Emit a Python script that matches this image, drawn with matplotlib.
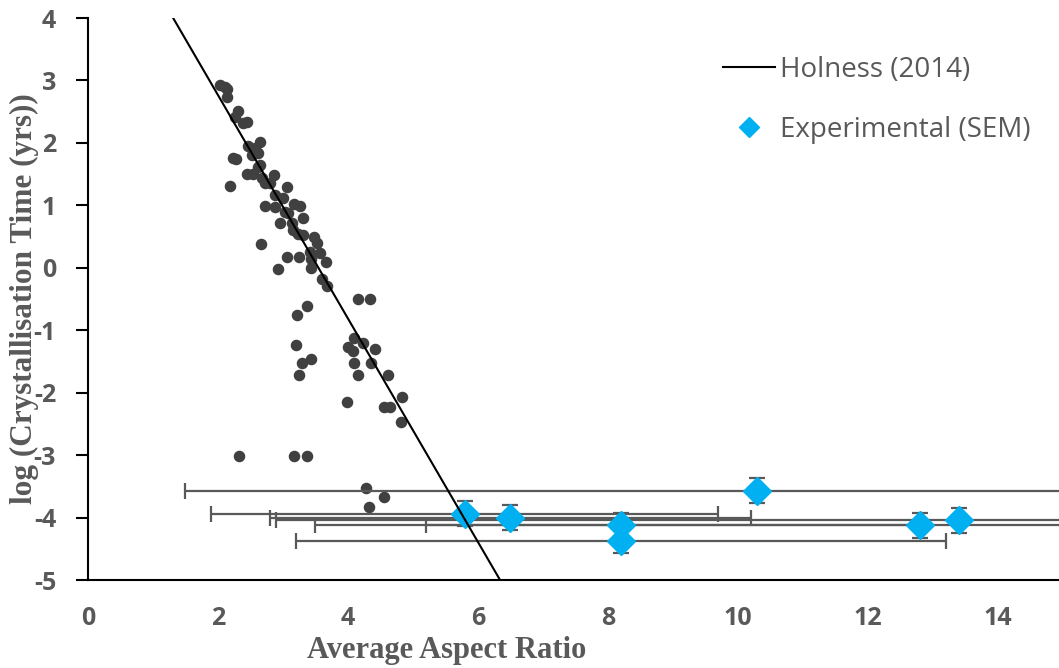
import matplotlib.pyplot as plt
from matplotlib.lines import Line2D

plt.rcParams['axes.unicode_minus'] = False

# 文献データ (アスペクト比, log結晶化時間)
lit_x = [2.03, 2.11, 2.14, 2.14, 2.31, 2.26, 2.38, 2.45, 2.46, 2.65, 2.57, 2.52, 2.62,
         2.23, 2.28, 2.65, 2.62, 2.45, 2.54, 2.86, 2.68, 2.72, 2.80, 2.18, 3.06, 2.88,
         3.00, 2.72, 2.88, 3.17, 3.26, 3.03, 3.08, 3.31, 2.95, 3.14, 3.15, 3.23, 3.31,
         3.48, 3.52, 2.66, 3.42, 3.57, 3.06, 3.25, 3.43, 3.66, 2.92, 3.43, 3.60, 3.68,
         4.15, 4.34, 3.37, 3.22, 3.20, 3.43, 3.29, 3.25, 4.09, 4.23, 4.00, 4.08, 4.42,
         4.35, 4.09, 4.15, 4.62, 4.83, 3.98, 4.55, 4.65, 4.82, 2.32, 3.17, 3.37, 4.28,
         4.55, 4.32]
lit_y = [2.93, 2.90, 2.86, 2.73, 2.51, 2.41, 2.32, 2.33, 1.95, 2.01, 1.92, 1.81, 1.84,
         1.76, 1.74, 1.65, 1.61, 1.50, 1.50, 1.49, 1.44, 1.36, 1.36, 1.31, 1.29, 1.17,
         1.12, 0.99, 0.97, 1.02, 0.99, 0.89, 0.88, 0.80, 0.72, 0.72, 0.60, 0.54, 0.52,
         0.49, 0.40, 0.38, 0.25, 0.24, 0.17, 0.17, 0.14, 0.09, -0.02, 0.00, -0.18, -0.29,
         -0.50, -0.50, -0.61, -0.76, -1.24, -1.46, -1.53, -1.72, -1.12, -1.20, -1.27,
         -1.33, -1.30, -1.53, -1.53, -1.72, -1.72, -2.07, -2.15, -2.23, -2.23, -2.47,
         -3.01, -3.01, -3.01, -3.53, -3.67, -3.83]

# Holness (2014)
holness_x = [1.31, 6.34]
holness_y = [4.0, -5.0]

# 実験値 (SEM)
exp_x = [5.8, 6.5, 8.2, 8.2, 10.3, 12.8, 13.4]
exp_y = [-3.94, -4.0, -4.12, -4.37, -3.57, -4.12, -4.04]
exp_xerr = [3.9, 3.7, 4.7, 5.0, 8.8, 7.6, 10.5]
exp_yerr = [0.2, 0.2, 0.2, 0.2, 0.2, 0.2, 0.2]

xticks = [0, 2, 4, 6, 8, 10, 12, 14]
yticks = [-5, -4, -3, -2, -1, 0, 1, 2, 3, 4]

grey = '#595959'
blue = '#00B0F0'

fig = plt.figure(figsize=(10.59, 6.68), dpi=100)
ax = fig.add_axes([88 / 1059, 88 / 668, 1 - 88 / 1059, 562 / 668])

ax.plot(lit_x, lit_y, 'o', color='#404040', ms=7.3, zorder=2)
ax.errorbar(exp_x, exp_y, xerr=exp_xerr, yerr=exp_yerr, fmt='none',
            ecolor=grey, elinewidth=1.6, capsize=6, capthick=1.6, zorder=3)
ax.plot(exp_x, exp_y, 'D', color=blue, ms=14, mec=blue, zorder=4)
ax.plot(holness_x, holness_y, '-', color='black', lw=1.5, zorder=5)

ax.set_xlim(0, 14.94)
ax.set_ylim(-5, 4)
ax.set_xticks(xticks)
ax.set_yticks(yticks)

for s in ['top', 'right']:
    ax.spines[s].set_visible(False)
for s in ['left', 'bottom']:
    ax.spines[s].set_linewidth(1.5)
    ax.spines[s].set_color('black')

ax.tick_params(axis='x', length=0, pad=19)
ax.tick_params(axis='y', length=9, width=1.5, pad=14)

ax.set_xlabel('Average Aspect Ratio', fontfamily='Liberation Serif',
              fontweight='bold', fontsize=22, color=grey)
ax.xaxis.set_label_coords((447 - 88) / (1059 - 88), -0.1)
ax.set_ylabel('log (Crystallisation Time (yrs))', fontfamily='Liberation Serif',
              fontweight='bold', fontsize=22.5, color=grey, zorder=1)
ax.yaxis.set_label_coords(-0.05, 0.5)

for lab in ax.get_xticklabels() + ax.get_yticklabels():
    lab.set_fontfamily('Open Sans')
    lab.set_fontweight('bold')
    lab.set_fontsize(18)
    lab.set_color(grey)

handles = [Line2D([], [], color='black', lw=1.5),
           Line2D([], [], ls='none', marker='D', color=blue, ms=10)]
leg = fig.legend(handles, ['Holness (2014)', 'Experimental (SEM)'],
                 loc='upper left', bbox_to_anchor=(723 / 1059, 1 - 56 / 668),
                 frameon=False, borderpad=0, borderaxespad=0, handlelength=1.87,
                 handletextpad=0.18, labelspacing=1.15,
                 prop={'family': 'Open Sans', 'size': 20})
for t in leg.get_texts():
    t.set_color(grey)

fig.savefig('out.png', dpi=100)
